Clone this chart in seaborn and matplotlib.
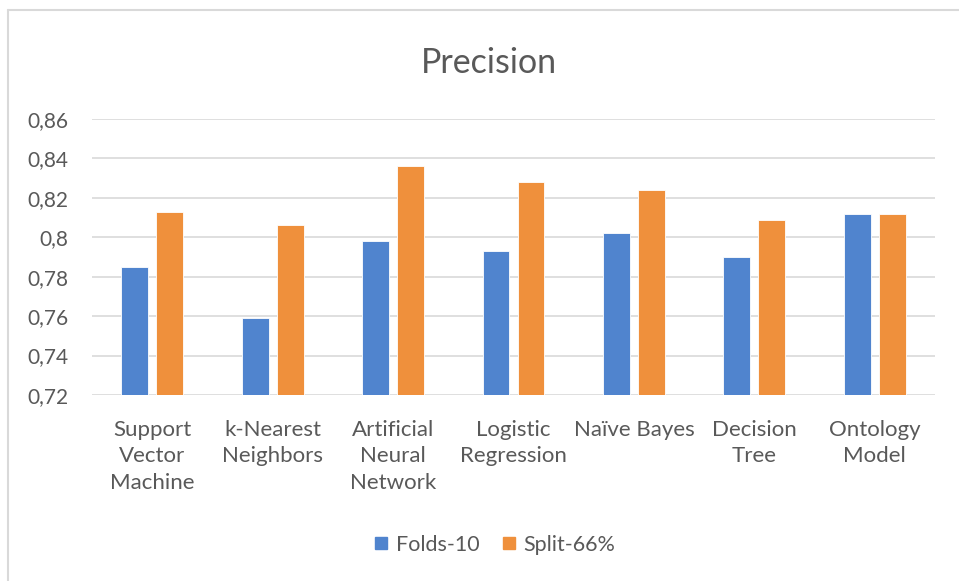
import matplotlib
matplotlib.use('Agg')
import matplotlib.pyplot as plt
from matplotlib.lines import Line2D
from matplotlib.ticker import FuncFormatter, MultipleLocator
import seaborn as sns
import pandas as pd

models = ['Support\nVector\nMachine', 'k-Nearest\nNeighbors', 'Artificial\nNeural\nNetwork',
          'Logistic\nRegression', 'Naïve Bayes', 'Decision\nTree', 'Ontology\nModel']
folds_10 = [0.785, 0.759, 0.798, 0.793, 0.802, 0.790, 0.812]
split_66 = [0.813, 0.806, 0.836, 0.828, 0.824, 0.809, 0.812]
series = ['Folds-10', 'Split-66%']
colors = ['#5084CE', '#EF903C']

df = pd.DataFrame({
    'Model': models * 2,
    'Precision': folds_10 + split_66,
    'Method': [series[0]] * len(models) + [series[1]] * len(models),
})

sns.set_style('white')
plt.rcParams['font.family'] = ['Lato', 'DejaVu Sans']
text_color = '#595959'

fig = plt.figure(figsize=(9.59, 5.81), dpi=100)
ax = fig.add_axes([92 / 959, 1 - 395 / 581, (935 - 92) / 959, (395 - 119) / 581])

sns.barplot(data=df, x='Model', y='Precision', hue='Method', palette=colors, saturation=1,
            width=0.58, gap=0.23, ax=ax, legend=False, edgecolor='white', linewidth=0.6)

ax.set_ylim(0.72, 0.86)
ax.yaxis.set_major_locator(MultipleLocator(0.02))
ax.yaxis.set_major_formatter(FuncFormatter(lambda v, p: f'{round(v, 2):g}'.replace('.', ',')))
ax.grid(axis='y', color='#D9D9D9', linewidth=1.2)
ax.set_axisbelow(True)
for s in ax.spines.values():
    s.set_visible(False)
ax.set_xlabel('')
ax.set_ylabel('')
ax.tick_params(axis='y', length=0, pad=17, labelsize=15, labelcolor=text_color)
ax.tick_params(axis='x', length=0, pad=18, labelsize=16, labelcolor=text_color)
for lbl in ax.get_xticklabels():
    lbl.set_linespacing(1.4)
    lbl.set_verticalalignment('top')

fig.text(0.51, 1 - 63 / 581, 'Precision', ha='center', va='center', fontsize=24.5, color=text_color)

handles = [Line2D([], [], marker='s', linestyle='none', markersize=8, color=c) for c in colors]
fig.legend(handles, series, loc='center', bbox_to_anchor=(0.5156, 1 - 545 / 581), ncol=2,
           frameon=False, fontsize=15.5, labelcolor=text_color, handlelength=0.7,
           handletextpad=0.35, columnspacing=1.0)

# chart border (top and left edges visible)
fig.add_artist(Line2D([8 / 959, 8 / 959], [0, 1 - 10 / 581], color='#D9D9D9', linewidth=1.5,
                      transform=fig.transFigure))
fig.add_artist(Line2D([8 / 959, 1], [1 - 10 / 581, 1 - 10 / 581], color='#D9D9D9', linewidth=1.5,
                      transform=fig.transFigure))

fig.savefig('out.png', dpi=100, facecolor='white')
